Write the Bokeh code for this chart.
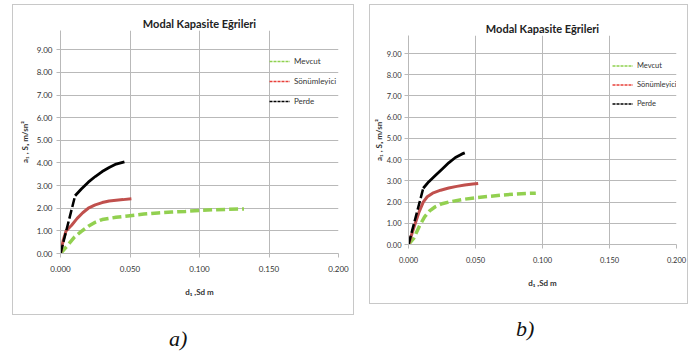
from bokeh.plotting import figure
from bokeh.models import Legend, LegendItem, FixedTicker, NumeralTickFormatter, Div, Range1d, Spacer
from bokeh.layouts import row, column
from bokeh.embed import file_html
from bokeh.resources import INLINE

title_text = "Modal Kapasite Eğrileri"
x_label = "d₁ ,Sd m"
y_label = "a₁ , Sₐ m/sn²"
x_ticks = [0.0, 0.05, 0.10, 0.15, 0.20]
y_ticks = [0, 1, 2, 3, 4, 5, 6, 7, 8, 9]
series_names = ["Mevcut", "Sönümleyici", "Perde"]
captions = ["a)", "b)"]

# panel a
a_mevcut_x = [0, 0.005, 0.010, 0.015, 0.020, 0.025, 0.030, 0.040, 0.050, 0.060, 0.070, 0.080, 0.090, 0.100, 0.110, 0.120, 0.132]
a_mevcut_y = [0, 0.35, 0.72, 0.98, 1.20, 1.38, 1.50, 1.60, 1.67, 1.74, 1.79, 1.83, 1.86, 1.90, 1.93, 1.95, 1.97]
a_sonum_x = [0, 0.002, 0.004, 0.008, 0.012, 0.016, 0.020, 0.025, 0.030, 0.035, 0.040, 0.045, 0.051]
a_sonum_y = [0, 0.60, 1.00, 1.25, 1.55, 1.80, 2.00, 2.15, 2.25, 2.32, 2.35, 2.38, 2.42]
a_perde_x = [0, 0.0105, 0.015, 0.020, 0.025, 0.030, 0.035, 0.040, 0.046]
a_perde_y = [0, 2.55, 2.85, 3.15, 3.40, 3.62, 3.80, 3.95, 4.05]

# panel b
b_mevcut_x = [0, 0.004, 0.008, 0.012, 0.016, 0.020, 0.025, 0.030, 0.040, 0.050, 0.060, 0.070, 0.080, 0.090, 0.095]
b_mevcut_y = [0, 0.30, 0.85, 1.30, 1.60, 1.78, 1.92, 2.00, 2.12, 2.20, 2.27, 2.33, 2.38, 2.41, 2.42]
b_sonum_x = [0, 0.004, 0.008, 0.011, 0.014, 0.018, 0.024, 0.030, 0.036, 0.042, 0.048, 0.052]
b_sonum_y = [0, 0.80, 1.55, 2.00, 2.25, 2.42, 2.56, 2.66, 2.74, 2.80, 2.85, 2.88]
b_perde_x = [0, 0.011, 0.015, 0.020, 0.025, 0.030, 0.035, 0.040, 0.042]
b_perde_y = [0, 2.65, 2.95, 3.25, 3.55, 3.85, 4.10, 4.27, 4.32]

GREEN = "#92D050"
RED = "#C0504D"
BLACK = "#000000"
GRID = "#b9b9b9"
TXT = "#333333"
FONT = "Lato"
NAN = float("nan")


def make_panel(geom, mev, son, per):
    p = figure(width=geom["w"], height=geom["h"], output_backend="svg", toolbar_location=None,
               x_range=Range1d(0, 0.2), y_range=Range1d(0, 9.85),
               min_border_left=geom["bl"], min_border_right=geom["br"],
               min_border_top=geom["bt"], min_border_bottom=geom["bb"],
               styles={"border": "1px solid #c8c8c8"})
    p.outline_line_color = None
    p.background_fill_color = "white"
    p.border_fill_color = "white"
    p.title.text = title_text
    p.title.align = "center"
    p.title.text_font = FONT
    p.title.text_font_size = "11px"
    p.title.text_font_style = "bold"
    p.title.text_color = "#222222"
    p.title.standoff = geom["tst"]
    p.title.offset = geom["toff"]
    for ax in (p.xaxis[0], p.yaxis[0]):
        ax.axis_line_color = GRID
        ax.major_tick_line_color = GRID
        ax.major_tick_out = 4
        ax.major_tick_in = 0
        ax.minor_tick_line_color = None
        ax.major_label_text_font = FONT
        ax.major_label_text_font_size = geom["tfs"]
        ax.major_label_text_color = TXT
        ax.axis_label_text_font = FONT
        ax.axis_label_text_font_size = "8px"
        ax.axis_label_text_font_style = "bold"
        ax.axis_label_text_color = TXT
    p.xaxis.ticker = FixedTicker(ticks=x_ticks)
    p.yaxis.ticker = FixedTicker(ticks=y_ticks)
    p.xaxis.formatter = NumeralTickFormatter(format="0.000")
    p.yaxis.formatter = NumeralTickFormatter(format="0.00")
    p.xaxis.axis_label = x_label
    p.yaxis.axis_label = y_label
    p.xaxis.major_label_standoff = 8
    p.yaxis.major_label_standoff = geom["ytst"]
    p.xaxis.axis_label_standoff = 12
    p.yaxis.axis_label_standoff = geom["ylstand"]
    p.xgrid.grid_line_color = GRID
    p.ygrid.grid_line_color = GRID
    p.xgrid.ticker = FixedTicker(ticks=x_ticks)
    p.ygrid.ticker = FixedTicker(ticks=y_ticks)

    p.line(mev[0], mev[1], color=GREEN, line_width=3.5, line_dash="9 4")
    p.line(son[0], son[1], color=RED, line_width=3)
    p.line(per[0][:2], per[1][:2], color=BLACK, line_width=2.5, line_dash="9 3")
    p.line(per[0][1:], per[1][1:], color=BLACK, line_width=2.8)

    # legend-only renderers (no visible data)
    lr = [p.line([NAN], [NAN], color=c, line_width=1.5, line_dash="3 1") for c in ("#8fd14f", "#e8403a", BLACK)]
    leg = Legend(items=[LegendItem(label=n, renderers=[r]) for n, r in zip(series_names, lr)],
                 location=geom["legloc"], padding=0, margin=0, spacing=0,
                 glyph_width=geom["gw"], glyph_height=geom["rowh"], label_height=geom["rowh"],
                 label_standoff=4, border_line_color=None, background_fill_alpha=0,
                 label_text_font=FONT, label_text_font_size=geom["lfs"], label_text_color=TXT)
    p.add_layout(leg)
    return p


geom_a = dict(w=342, h=311, bl=47, br=17, bt=25, bb=63, legloc=(209, 142), gw=21, rowh=20,
              tst=2, toff=-8, ylstand=4, ytst=4, tfs="8px", lfs="8px")
geom_b = dict(w=319, h=300, bl=36, br=13, bt=30, bb=61, legloc=(204, 131), gw=21, rowh=19,
              tst=1, toff=-3, ylstand=0, ytst=3, tfs="7.5px", lfs="7.5px")

pa = make_panel(geom_a, (a_mevcut_x, a_mevcut_y), (a_sonum_x, a_sonum_y), (a_perde_x, a_perde_y))
pb = make_panel(geom_b, (b_mevcut_x, b_mevcut_y), (b_sonum_x, b_sonum_y), (b_perde_x, b_perde_y))

cap_style = {"font-family": "Liberation Serif", "font-style": "italic", "font-size": "22px",
             "line-height": "28px", "color": "#111111"}
da = Div(text='<span style="position:relative;top:5px;margin-left:152px">' + captions[0] + '</span>',
         width=300, height=22, styles=cap_style)
db = Div(text='<span style="position:relative;top:6px;margin-left:142px">' + captions[1] + '</span>',
         width=300, height=22, styles=cap_style)

layout = row(Spacer(width=12),
             column(Spacer(height=4), pa, da),
             Spacer(width=15),
             column(Spacer(height=4), pb, db))
open("out.html", "w").write(file_html(layout, INLINE))
